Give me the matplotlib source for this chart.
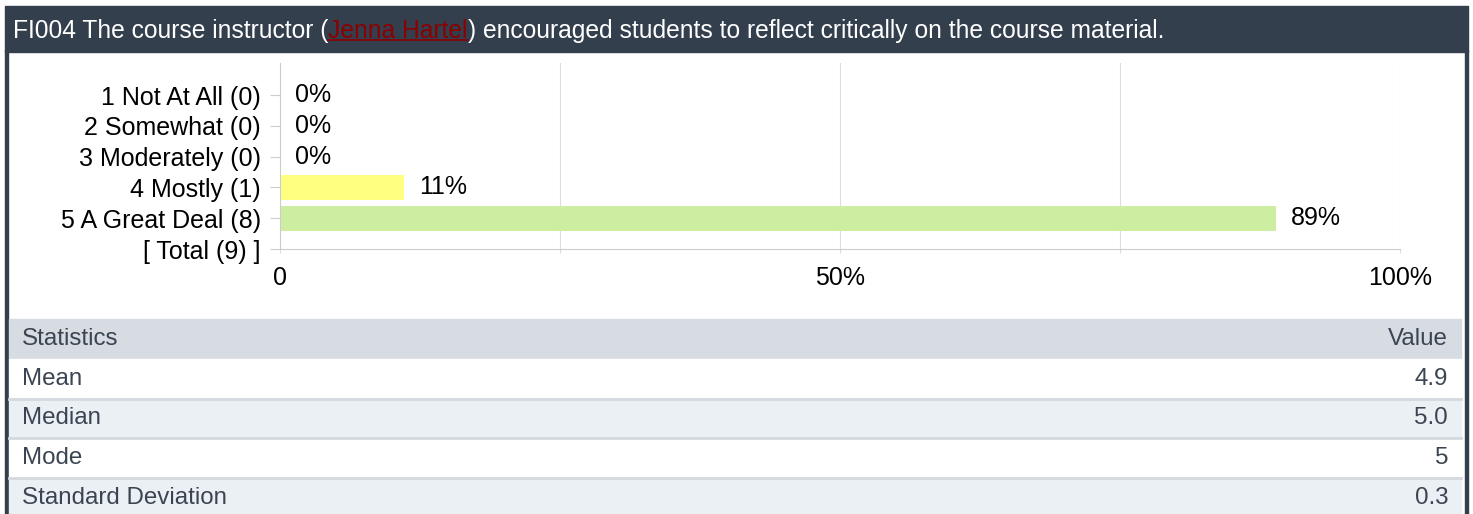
import matplotlib
matplotlib.use('Agg')
import matplotlib.pyplot as plt
from matplotlib.patches import Rectangle

plt.rcParams['font.family'] = ['Liberation Sans', 'DejaVu Sans']

# data
title_pre = 'FI004 The course instructor ('
title_name = 'Jenna Hartel'
title_post = ') encouraged students to reflect critically on the course material.'

categories = ['1 Not At All (0)', '2 Somewhat (0)', '3 Moderately (0)',
              '4 Mostly (1)', '5 A Great Deal (8)', '[ Total (9) ]']
percents = [0, 0, 0, 11.1, 88.9]
bar_colors = ['#ffff80', '#ffff80', '#ffff80', '#ffff80', '#cdeea0']
x_ticks = [0, 50, 100]
x_tick_labels = ['0', '50%', '100%']
x_minor = [25, 75]

stat_header = ['Statistics', 'Value']
stat_names = ['Mean', 'Median', 'Mode', 'Standard Deviation']
stat_values = ['4.9', '5.0', '5', '0.3']

W, H = 1473, 514
fig = plt.figure(figsize=(W / 100, H / 100), dpi=100)
fig.patch.set_facecolor('white')

# background layer in pixel coords
bg = fig.add_axes([0, 0, 1, 1])
bg.set_xlim(0, W)
bg.set_ylim(H, 0)
bg.axis('off')

dark = '#343f4e'
bg.add_patch(Rectangle((5, 6), 1463, 46, color=dark, zorder=1))
bg.add_patch(Rectangle((5, 50), 3, H - 50, color=dark, zorder=1))
bg.add_patch(Rectangle((1465, 50), 3, H - 50, color=dark, zorder=1))

fs_title = 17.7
t1 = bg.text(13, 31, title_pre, color='white', fontsize=fs_title, va='center', ha='left')
t2 = bg.annotate(title_name, xy=(1, 0), xycoords=t1, va='bottom', ha='left',
                 color='#8b0000', fontsize=fs_title)
t3 = bg.annotate(title_post, xy=(1, 0), xycoords=t2, va='bottom', ha='left',
                 color='white', fontsize=fs_title)

# statistics table
txt_col = '#3b4552'
fs_tab = 17.4
row_h = 39.8
top = 319
bg.add_patch(Rectangle((9, top), 1452, row_h, color='#d6dce1', zorder=1))
bg.text(22, top + row_h / 2, stat_header[0], fontsize=fs_tab, color=txt_col, va='center')
bg.text(1448, top + row_h / 2, stat_header[1], fontsize=fs_tab, color=txt_col, va='center', ha='right')
for i, (name, val) in enumerate(zip(stat_names, stat_values)):
    y0 = top + row_h * (i + 1)
    fc = 'white' if i % 2 == 0 else '#ebf0f4'
    bg.add_patch(Rectangle((9, y0), 1452, row_h, color=fc, zorder=1))
    if i > 0:
        bg.plot([9, 1461], [y0, y0], color='#d3d9de', lw=2, zorder=2)
    bg.text(22, y0 + row_h / 2, name, fontsize=fs_tab, color=txt_col, va='center')
    bg.text(1448, y0 + row_h / 2, val, fontsize=fs_tab, color=txt_col, va='center', ha='right')

# bar chart
fs = 18
ax_top, ax_bot = 63, 249
ax = fig.add_axes([280 / W, (H - ax_bot) / H, 1120 / W, (ax_bot - ax_top) / H])
ax.set_facecolor('none')
idx = list(range(len(percents)))
ax.barh(idx, percents, height=0.8, color=bar_colors, zorder=2)
for i, p in zip(idx, percents):
    ax.annotate(f'{round(p)}%', xy=(p, i), xytext=(11, 0), textcoords='offset points',
                va='center', ha='left', fontsize=fs, color='black')

step = (ax_bot - 95) / 5
ax.set_ylim(len(categories) - 1, -(95 - ax_top) / step)
ax.set_xlim(0, 100)
ax.set_yticks(range(len(categories)))
ax.set_yticklabels(categories, fontsize=fs)
ax.set_xticks(x_ticks)
ax.set_xticklabels(x_tick_labels, fontsize=fs)
ax.set_xticks(x_minor, minor=True)
ax.grid(axis='x', which='both', color='#dddddd', lw=0.8, zorder=0)
for s in ['top', 'right']:
    ax.spines[s].set_visible(False)
for s in ['left', 'bottom']:
    ax.spines[s].set_color('#cccccc')
    ax.spines[s].set_linewidth(0.8)
ax.tick_params(axis='y', length=7.2, width=0.8, color='#cccccc', pad=6.5)
ax.tick_params(axis='x', which='both', length=3, width=0.8, color='#dddddd', pad=9)

# underline for the linked name
fig.canvas.draw()
r = fig.canvas.get_renderer()
bb = t2.get_window_extent(r)
y_line = H - bb.y0 - 3
bg.plot([bb.x0, bb.x1], [y_line, y_line], color='#8b0000', lw=1.2, zorder=3)

fig.savefig('out.png', dpi=100)
